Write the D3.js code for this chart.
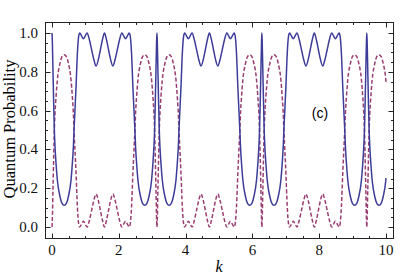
<!DOCTYPE html>
<html>
<head>
    <title>quantum probability</title>
    <script src="https://d3js.org/d3.v7.min.js"></script>
    <style>
        body { margin: 0; background: #fff; }
        .frame { fill: none; stroke: #222; stroke-width: 1; }
        .tick-line { stroke: #222; stroke-width: 1; }
        .tick-label { font-family: "Liberation Serif", "DejaVu Serif", serif; font-size: 15px; fill: #111; }
        .blue-line { fill: none; stroke: #3d3d99; stroke-width: 1.5; }
        .dash-line { fill: none; stroke: #993d71; stroke-width: 1.5; stroke-dasharray: 4, 2.2; }
    </style>
</head>
<body>
<script>

    // values
    var kVals = [
        0, 0.01, 0.03, 0.05, 0.07, 0.09, 0.12, 0.16, 0.24, 0.30, 0.365, 0.43, 0.49, 0.57, 0.61, 0.64, 0.66, 0.72, 0.76, 0.80, 0.83, 0.885, 0.94, 0.995, 1.05, 1.12, 1.185, 1.25, 1.32, 1.39, 1.45, 1.51,
        1.571, 1.632, 1.692, 1.752, 1.822, 1.892, 1.957, 2.022, 2.092, 2.147, 2.202, 2.257, 2.312, 2.342, 2.382, 2.422, 2.482, 2.502, 2.532, 2.572, 2.652, 2.712, 2.777, 2.842, 2.902, 2.982, 3.022, 3.052, 3.072, 3.092, 3.112, 3.132,
        3.142, 3.152, 3.172, 3.192, 3.212, 3.232, 3.262, 3.302, 3.382, 3.442, 3.507, 3.572, 3.632, 3.712, 3.752, 3.782, 3.802, 3.862, 3.902, 3.942, 3.972, 4.027, 4.082, 4.137, 4.192, 4.262, 4.327, 4.392, 4.462, 4.532, 4.592, 4.652,
        4.713, 4.774, 4.834, 4.894, 4.964, 5.034, 5.099, 5.164, 5.234, 5.289, 5.344, 5.399, 5.454, 5.484, 5.524, 5.564, 5.624, 5.644, 5.674, 5.714, 5.794, 5.854, 5.919, 5.984, 6.044, 6.124, 6.164, 6.194, 6.214, 6.234, 6.254, 6.274,
        6.283, 6.293, 6.313, 6.333, 6.353, 6.373, 6.403, 6.443, 6.523, 6.583, 6.648, 6.713, 6.773, 6.853, 6.893, 6.923, 6.943, 7.003, 7.043, 7.083, 7.113, 7.168, 7.223, 7.278, 7.333, 7.403, 7.468, 7.533, 7.603, 7.673, 7.733, 7.793,
        7.854, 7.915, 7.975, 8.035, 8.105, 8.175, 8.240, 8.305, 8.375, 8.430, 8.485, 8.540, 8.595, 8.625, 8.665, 8.705, 8.765, 8.785, 8.815, 8.855, 8.935, 8.995, 9.060, 9.125, 9.185, 9.265, 9.305, 9.335, 9.355, 9.375, 9.395, 9.415,
        9.425, 9.435, 9.455, 9.475, 9.495, 9.515, 9.545, 9.585, 9.665, 9.725, 9.790, 9.855, 9.915, 9.995, 10.0
    ];

    var pSolid = [
        1.000, 0.960, 0.800, 0.640, 0.500, 0.414, 0.330, 0.242, 0.156, 0.122, 0.112, 0.122, 0.156, 0.242, 0.330, 0.414, 0.500, 0.723, 0.895, 0.985, 1.000, 0.985, 0.970, 0.985, 1.000, 0.965, 0.915, 0.865, 0.830, 0.865, 0.915, 0.965,
        1.000, 0.965, 0.915, 0.865, 0.830, 0.865, 0.915, 0.965, 1.000, 0.985, 0.970, 0.985, 1.000, 0.985, 0.895, 0.723, 0.500, 0.414, 0.330, 0.242, 0.156, 0.122, 0.112, 0.122, 0.156, 0.242, 0.330, 0.414, 0.500, 0.640, 0.800, 0.960,
        1.000, 0.960, 0.800, 0.640, 0.500, 0.414, 0.330, 0.242, 0.156, 0.122, 0.112, 0.122, 0.156, 0.242, 0.330, 0.414, 0.500, 0.723, 0.895, 0.985, 1.000, 0.985, 0.970, 0.985, 1.000, 0.965, 0.915, 0.865, 0.830, 0.865, 0.915, 0.965,
        1.000, 0.965, 0.915, 0.865, 0.830, 0.865, 0.915, 0.965, 1.000, 0.985, 0.970, 0.985, 1.000, 0.985, 0.895, 0.723, 0.500, 0.414, 0.330, 0.242, 0.156, 0.122, 0.112, 0.122, 0.156, 0.242, 0.330, 0.414, 0.500, 0.640, 0.800, 0.960,
        1.000, 0.960, 0.800, 0.640, 0.500, 0.414, 0.330, 0.242, 0.156, 0.122, 0.112, 0.122, 0.156, 0.242, 0.330, 0.414, 0.500, 0.723, 0.895, 0.985, 1.000, 0.985, 0.970, 0.985, 1.000, 0.965, 0.915, 0.865, 0.830, 0.865, 0.915, 0.965,
        1.000, 0.965, 0.915, 0.865, 0.830, 0.865, 0.915, 0.965, 1.000, 0.985, 0.970, 0.985, 1.000, 0.985, 0.895, 0.723, 0.500, 0.414, 0.330, 0.242, 0.156, 0.122, 0.112, 0.122, 0.156, 0.242, 0.330, 0.414, 0.500, 0.640, 0.800, 0.960,
        1.000, 0.960, 0.800, 0.640, 0.500, 0.414, 0.330, 0.242, 0.156, 0.122, 0.112, 0.122, 0.156, 0.242, 0.252
    ];

    var pDashed = [
        0.000, 0.040, 0.200, 0.360, 0.500, 0.586, 0.670, 0.758, 0.844, 0.878, 0.888, 0.878, 0.844, 0.758, 0.670, 0.586, 0.500, 0.277, 0.105, 0.015, 0.000, 0.015, 0.030, 0.015, 0.000, 0.035, 0.085, 0.135, 0.170, 0.135, 0.085, 0.035,
        0.000, 0.035, 0.085, 0.135, 0.170, 0.135, 0.085, 0.035, 0.000, 0.015, 0.030, 0.015, 0.000, 0.015, 0.105, 0.277, 0.500, 0.586, 0.670, 0.758, 0.844, 0.878, 0.888, 0.878, 0.844, 0.758, 0.670, 0.586, 0.500, 0.360, 0.200, 0.040,
        0.000, 0.040, 0.200, 0.360, 0.500, 0.586, 0.670, 0.758, 0.844, 0.878, 0.888, 0.878, 0.844, 0.758, 0.670, 0.586, 0.500, 0.277, 0.105, 0.015, 0.000, 0.015, 0.030, 0.015, 0.000, 0.035, 0.085, 0.135, 0.170, 0.135, 0.085, 0.035,
        0.000, 0.035, 0.085, 0.135, 0.170, 0.135, 0.085, 0.035, 0.000, 0.015, 0.030, 0.015, 0.000, 0.015, 0.105, 0.277, 0.500, 0.586, 0.670, 0.758, 0.844, 0.878, 0.888, 0.878, 0.844, 0.758, 0.670, 0.586, 0.500, 0.360, 0.200, 0.040,
        0.000, 0.040, 0.200, 0.360, 0.500, 0.586, 0.670, 0.758, 0.844, 0.878, 0.888, 0.878, 0.844, 0.758, 0.670, 0.586, 0.500, 0.277, 0.105, 0.015, 0.000, 0.015, 0.030, 0.015, 0.000, 0.035, 0.085, 0.135, 0.170, 0.135, 0.085, 0.035,
        0.000, 0.035, 0.085, 0.135, 0.170, 0.135, 0.085, 0.035, 0.000, 0.015, 0.030, 0.015, 0.000, 0.015, 0.105, 0.277, 0.500, 0.586, 0.670, 0.758, 0.844, 0.878, 0.888, 0.878, 0.844, 0.758, 0.670, 0.586, 0.500, 0.360, 0.200, 0.040,
        0.000, 0.040, 0.200, 0.360, 0.500, 0.586, 0.670, 0.758, 0.844, 0.878, 0.888, 0.878, 0.844, 0.758, 0.748
    ];

    var xTicks = [0, 2, 4, 6, 8, 10];
    var yTicks = [0, 0.2, 0.4, 0.6, 0.8, 1.0];

    var width = 415, height = 280;
    var frameL = 45, frameR = 393, frameT = 22, frameB = 238;

    var svg = d3.select("body").append("svg")
        .attr("width", width)
        .attr("height", height);

    var x = d3.scaleLinear().domain([0, 10]).range([52, 386]);
    var y = d3.scaleLinear().domain([0, 1]).range([227, 33]);

    svg.append("clipPath").attr("id", "plot-clip")
        .append("rect")
        .attr("x", frameL).attr("y", frameT)
        .attr("width", frameR - frameL).attr("height", frameB - frameT);

    var probLine = d3.line()
        .x(function (d, i) { return x(kVals[i]); })
        .y(function (d) { return y(d); })
        .curve(d3.curveMonotoneX);

    var plot = svg.append("g").attr("clip-path", "url(#plot-clip)");

    plot.append("path").datum(pDashed).attr("class", "dash-line").attr("d", probLine);
    plot.append("path").datum(pSolid).attr("class", "blue-line").attr("d", probLine);

    // frame with inward ticks on all sides
    svg.append("rect").attr("class", "frame")
        .attr("x", frameL + 0.5).attr("y", frameT + 0.5)
        .attr("width", frameR - frameL).attr("height", frameB - frameT);

    var xMinor = d3.range(0, 10.01, 0.5);
    var yMinor = d3.range(0, 1.001, 0.05);

    function tickLen(v, major) {
        return major.some(function (m) { return Math.abs(m - v) < 1e-6; }) ? 5 : 2.5;
    }

    var ticks = svg.append("g");
    xMinor.forEach(function (v) {
        var l = tickLen(v, xTicks), px = Math.round(x(v)) + 0.5;
        ticks.append("line").attr("class", "tick-line").attr("x1", px).attr("x2", px).attr("y1", frameB + 0.5).attr("y2", frameB + 0.5 - l);
        ticks.append("line").attr("class", "tick-line").attr("x1", px).attr("x2", px).attr("y1", frameT + 0.5).attr("y2", frameT + 0.5 + l);
    });
    yMinor.forEach(function (v) {
        var l = tickLen(v, yTicks), py = Math.round(y(v)) + 0.5;
        ticks.append("line").attr("class", "tick-line").attr("y1", py).attr("y2", py).attr("x1", frameL + 0.5).attr("x2", frameL + 0.5 + l);
        ticks.append("line").attr("class", "tick-line").attr("y1", py).attr("y2", py).attr("x1", frameR + 0.5).attr("x2", frameR + 0.5 - l);
    });

    svg.selectAll(".x-label").data(xTicks).enter().append("text")
        .attr("class", "tick-label")
        .attr("text-anchor", "middle")
        .attr("x", function (d) { return x(d); })
        .attr("y", 255)
        .text(function (d) { return d; });

    svg.selectAll(".y-label").data(yTicks).enter().append("text")
        .attr("class", "tick-label")
        .attr("text-anchor", "end")
        .attr("x", 38)
        .attr("y", function (d) { return y(d) + 5; })
        .text(function (d) { return d.toFixed(1); });

    svg.append("text")
        .attr("transform", "translate(15,129) rotate(-90)")
        .attr("text-anchor", "middle")
        .style("font-family", "Liberation Serif, DejaVu Serif, serif")
        .style("font-size", "16.5px")
        .text("Quantum Probability");

    svg.append("text")
        .attr("x", 219).attr("y", 272)
        .attr("text-anchor", "middle")
        .style("font-family", "Liberation Serif, DejaVu Serif, serif")
        .style("font-style", "italic")
        .style("font-size", "16px")
        .text("k");

    svg.append("text")
        .attr("x", 320).attr("y", 118)
        .attr("text-anchor", "middle")
        .style("font-family", "Liberation Sans, Arial, sans-serif")
        .style("font-size", "14px")
        .text("(c)");

</script>
</body>
</html>
